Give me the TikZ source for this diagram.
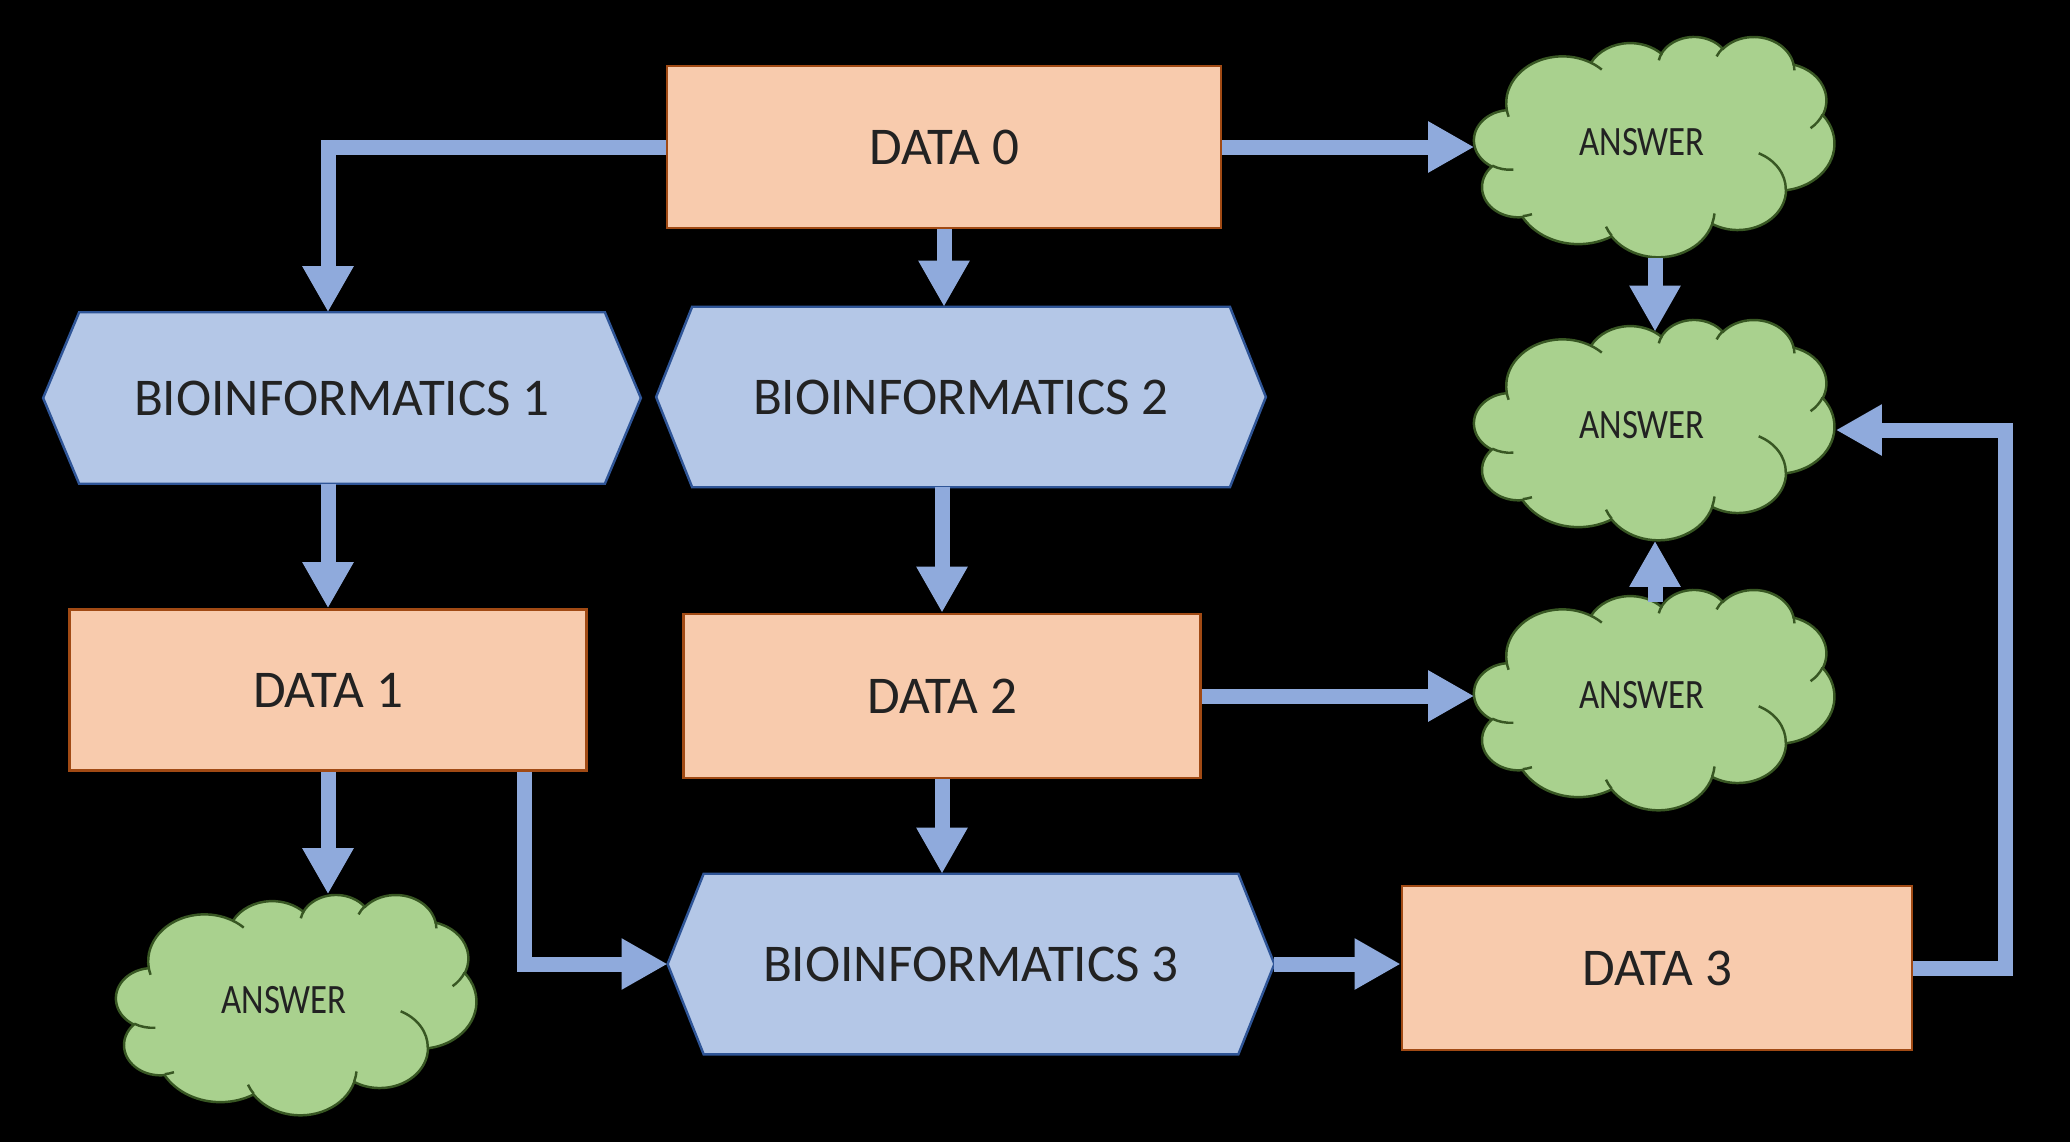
\documentclass[tikz,border=0pt]{standalone}
\usepackage{graphicx}
\usepackage{fontspec}
\setmainfont{Carlito}
\usetikzlibrary{arrows.meta,backgrounds}
\definecolor{arrblue}{HTML}{8FAADC}
\definecolor{hexfill}{HTML}{B4C7E7}
\definecolor{hexline}{HTML}{2F5597}
\definecolor{datafill}{HTML}{F8CBAD}
\definecolor{dataline}{HTML}{A14A14}
\definecolor{cloudfill}{HTML}{A9D18E}
\definecolor{cloudline}{HTML}{385723}
\definecolor{txt}{HTML}{222222}
% convert visual ellipse angles (OOXML arcTo) to parametric start/end angles
\newcommand\ooang[5]{%
  \pgfmathsetmacro\ootmpS{atan2((#2)*sin(#4),(#3)*cos(#4))}%
  \pgfmathsetmacro\ootmpE{\ootmpS+Mod(atan2((#2)*sin((#4)+(#5)),(#3)*cos((#4)+(#5)))-\ootmpS,360)}%
  \expandafter\global\expandafter\let\csname ooS#1\endcsname\ootmpS
  \expandafter\global\expandafter\let\csname ooE#1\endcsname\ootmpE}
\ooang{A}{67.53}{91.90}{-190.48748}{123.78053}
\ooang{B}{53.33}{72.67}{-144.10238}{89.94523}
\ooang{C}{43.65}{59.45}{-145.80792}{99.72302}
\ooang{D}{48.57}{65.95}{-130.98607}{117.24173}
\ooang{E}{53.33}{72.73}{-78.70888}{109.02692}
\ooang{F}{67.75}{92.20}{-46.26725}{130.26900}
\ooang{G}{57.85}{78.67}{0.62502}{114.03333}
\ooang{H}{67.52}{92.15}{22.45160}{115.17255}
\ooang{I}{77.20}{105.43}{66.24263}{75.71102}
\ooang{J}{43.60}{59.18}{-274.94208}{146.73557}
\ooang{K}{43.45}{59.45}{-246.82850}{152.51885}
\ooang{a}{43.45}{59.45}{86.74200}{26.42950}
\ooang{b}{43.60}{59.18}{73.61047}{11.44747}
\ooang{c}{67.52}{92.15}{137.62415}{14.08110}
\ooang{d}{67.52}{92.15}{6.45327}{15.99835}
\ooang{e}{57.85}{78.67}{-70.29235}{70.91737}
\ooang{f}{53.33}{72.73}{30.31803}{27.75150}
\ooang{g}{48.57}{65.95}{-13.74433}{14.85890}
\ooang{h}{48.57}{65.95}{-149.18145}{18.19537}
\ooang{i}{43.65}{59.45}{-163.49427}{17.68635}
\ooang{j}{67.53}{91.90}{-66.70695}{12.31935}
\ooang{k}{67.53}{91.90}{157.65435}{11.85817}
\newcommand\drawpptcloud[1]{%
  \begin{scope}[shift={(#1.north west)}, x=0.0083333cm, y=-0.0050926cm]
    \filldraw[cloudshape] (39.00,143.70)
      arc[start angle=\ooSA, end angle=\ooEA, x radius=67.53, y radius=91.90]
      arc[start angle=\ooSB, end angle=\ooEB, x radius=53.33, y radius=72.67]
      arc[start angle=\ooSC, end angle=\ooEC, x radius=43.65, y radius=59.45]
      arc[start angle=\ooSD, end angle=\ooED, x radius=48.57, y radius=65.95]
      arc[start angle=\ooSE, end angle=\ooEE, x radius=53.33, y radius=72.73]
      arc[start angle=\ooSF, end angle=\ooEF, x radius=67.75, y radius=92.20]
      arc[start angle=\ooSG, end angle=\ooEG, x radius=57.85, y radius=78.67]
      arc[start angle=\ooSH, end angle=\ooEH, x radius=67.52, y radius=92.15]
      arc[start angle=\ooSI, end angle=\ooEI, x radius=77.20, y radius=105.43]
      arc[start angle=\ooSJ, end angle=\ooEJ, x radius=43.60, y radius=59.18]
      arc[start angle=\ooSK, end angle=\ooEK, x radius=43.45, y radius=59.45]
      -- cycle;
    \draw[cloudline, line width=0.7pt]
      (46.93,261.77) arc[start angle=\ooSa, end angle=\ooEa, x radius=43.45, y radius=59.45]
      (69.28,348.99) arc[start angle=\ooSb, end angle=\ooEb, x radius=43.60, y radius=59.18]
      (164.78,390.90) arc[start angle=\ooSc, end angle=\ooEc, x radius=67.52, y radius=92.15]
      (288.27,347.51) arc[start angle=\ooSd, end angle=\ooEd, x radius=67.52, y radius=92.15]
      (341.29,229.54) arc[start angle=\ooSe, end angle=\ooEe, x radius=57.85, y radius=78.67]
      (417.98,153.54) arc[start angle=\ooSf, end angle=\ooEf, x radius=53.33, y radius=72.73]
      (383.24,54.26) arc[start angle=\ooSg, end angle=\ooEg, x radius=48.57, y radius=65.95]
      (290.78,39.52) arc[start angle=\ooSh, end angle=\ooEh, x radius=48.57, y radius=65.95]
      (221.41,47.20) arc[start angle=\ooSi, end angle=\ooEi, x radius=43.65, y radius=59.45]
      (140.00,51.92) arc[start angle=\ooSj, end angle=\ooEj, x radius=67.53, y radius=91.90]
      (41.27,157.89) arc[start angle=\ooSk, end angle=\ooEk, x radius=67.53, y radius=91.90];
  \end{scope}}
\begin{document}
\begin{tikzpicture}[x=0.01cm,y=-0.01cm,
  databox/.style={rectangle, fill=datafill, draw=dataline, line width=0.7pt,
    inner sep=0pt, text=txt, font=\fontsize{15.1}{18}\selectfont},
  hexnode/.style={rectangle, inner sep=0pt, text=txt, font=\fontsize{15.1}{18}\selectfont},
  hexshape/.style={fill=hexfill, draw=hexline, line width=0.7pt},
  cloudbox/.style={rectangle, inner sep=0pt, minimum width=3.6cm, minimum height=2.2cm},
  cloudshape/.style={fill=cloudfill, draw=cloudline, line width=0.7pt},
  answertxt/.style={inner sep=0pt, text=txt, font=\fontsize{9.9}{12}\selectfont},
  arr/.style={draw=arrblue, line width=0.15cm, -{Triangle[width=0.48cm,length=0.46cm]}}
]
% canvas
\useasboundingbox (0,0) rectangle (2070,1142);
% boxes
\node[databox, minimum width=5.54cm, minimum height=1.62cm] (d0) at (944,147) {DATA 0};
\node[databox, minimum width=5.17cm, minimum height=1.61cm] (d1) at (328,690) {DATA 1};
\node[databox, minimum width=5.17cm, minimum height=1.64cm] (d2) at (942,696) {DATA 2};
\node[databox, minimum width=5.10cm, minimum height=1.64cm] (d3) at (1657,968) {DATA 3};
% hexagons
\node[hexnode, minimum width=5.96cm, minimum height=1.70cm] (b1) at (342,398) {BIOINFORMATICS 1};
\node[hexnode, minimum width=6.08cm, minimum height=1.79cm] (b2) at (961,397) {BIOINFORMATICS 2};
\node[hexnode, minimum width=6.05cm, minimum height=1.79cm] (b3) at (971,964) {BIOINFORMATICS 3};
% clouds (boxes + texts)
\node[cloudbox] (ca) at (1655,147) {};
\node[cloudbox] (cb) at (1655,430) {};
\node[cloudbox] (cc) at (1655,700) {};
\node[cloudbox] (cd) at (297,1005) {};
\foreach \c in {ca,cb,cc,cd}
  \node[answertxt] (\c t) at ([xshift=-0.128cm,yshift=0.05cm]\c.center) {\scalebox{1}[1.2]{ANSWER}};
\begin{scope}[on background layer]
  \fill[black] (0,0) rectangle (2070,1142);
  \foreach \n in {b1,b2,b3}
    \draw[hexshape] (\n.west) -- ([xshift=0.36cm]\n.north west) -- ([xshift=-0.36cm]\n.north east)
      -- (\n.east) -- ([xshift=-0.36cm]\n.south east) -- ([xshift=0.36cm]\n.south west) -- cycle;
  \drawpptcloud{ca}
  \drawpptcloud{cb}
  \drawpptcloud{cc}
  \drawpptcloud{cd}
\end{scope}
% connectors
\coordinate (cbtop) at ([yshift=-0.125cm]cb.north);
\coordinate (cctop) at ([yshift=-0.125cm]cc.north);
\draw[arr] (d0.west) -| (b1.north -| d1.north);
\draw[arr] (d0.south) -- (d0.south |- b2.north);
\draw[arr] (d0.east) -- (d0.east -| ca.west);
\draw[arr] (ca.south) -- (cbtop);
\draw[arr] (b1.south -| d1.north) -- (d1.north);
\draw[arr] (b2.south -| d2.north) -- (d2.north);
\draw[arr] (d2.east) -- (d2.east -| cc.west);
\draw[arr] (cctop) -- (cb.south);
\draw[arr] (d1.south) -- (d1.south |- cd.north);
\coordinate (d1out) at ([xshift=-0.63cm]d1.south east);
\draw[arr] (d1out) |- (b3.west);
\draw[arr] (d2.south) -- (d2.south |- b3.north);
\draw[arr] (b3.east) -- (b3.east -| d3.west);
\coordinate (d3turn) at ([xshift=0.92cm]d3.east);
\draw[arr] (d3.east) -- (d3turn) |- (cb.east);
\end{tikzpicture}
\end{document}
